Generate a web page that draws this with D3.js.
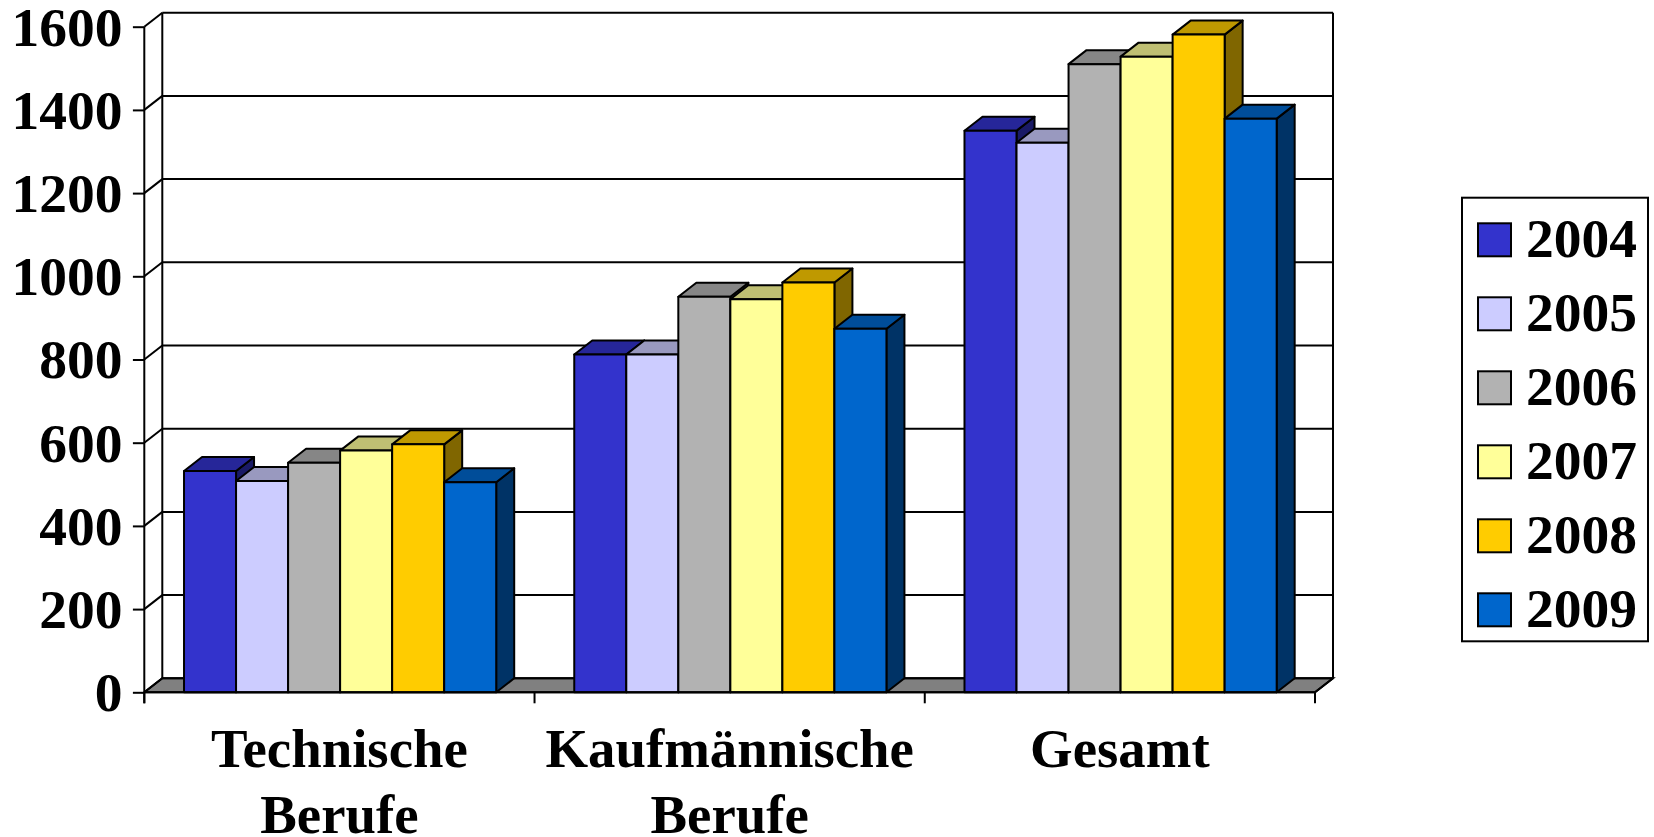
<!DOCTYPE html>
<html>
<head>
<meta charset="utf-8">
<script src="https://cdn.jsdelivr.net/npm/d3@7"></script>
<style>
  html, body { margin: 0; padding: 0; background: #fff; overflow: hidden; }
  text { font-family: "Liberation Serif", serif; font-weight: bold; fill: #000; }
</style>
</head>
<body>
<div id="chart-area"></div>
<script>
var categories = [["Technische", "Berufe"], ["Kaufmännische", "Berufe"], ["Gesamt"]]
var years = ["2004", "2005", "2006", "2007", "2008", "2009"]
var colors = ["#3333CC", "#CCCCFF", "#B2B2B2", "#FFFF99", "#FFCC00", "#0066CC"]
var yTicks = [0, 200, 400, 600, 800, 1000, 1200, 1400, 1600]

var technische = [532, 508, 552, 581, 596, 505]
var kaufmaennische = [812, 812, 951, 945, 985, 874]
var gesamt = [1350, 1321, 1510, 1528, 1581, 1379]
var series = [technische, kaufmaennische, gesamt]

var depthX = 18, depthY = 14
var sw = 2

var svg = d3.select("#chart-area")
  .append("svg")
  .attr("width", 1654)
  .attr("height", 837)
  .style("display", "block")

var y = d3.scaleLinear()
  .domain([0, 1600])
  .range([692.3, 26.7])

var x0 = d3.scaleBand()
  .domain(d3.range(categories.length))
  .range([144.3, 1315])

// bars touch each other, the gap is only between the groups
var x1 = d3.scaleBand()
  .domain(years)
  .range([0.7, x0.bandwidth() + 0.7])
  .paddingOuter(0.75)
  .paddingInner(0)

var left = x0.range()[0], right = x0.range()[1]
var bottom = y(0), top_ = y(1600)

function line(g, x_1, y_1, x_2, y_2) {
  return g.append("line")
    .attr("x1", x_1).attr("y1", y_1)
    .attr("x2", x_2).attr("y2", y_2)
    .attr("stroke", "#000")
    .attr("stroke-width", sw)
}

// floor
var wall = svg.append("g")
wall.append("path")
  .attr("d", d3.line()([
    [left, bottom], [left + depthX, bottom - depthY],
    [right + depthX, bottom - depthY], [right, bottom]
  ]) + "Z")
  .attr("fill", "#808080")
  .attr("stroke", "#000")
  .attr("stroke-width", sw)

// gridlines on the back wall and the slanted bit on the left wall
yTicks.forEach(function(t) {
  line(wall, left + depthX, y(t) - depthY, right + depthX, y(t) - depthY)
  line(wall, left, y(t), left + depthX, y(t) - depthY)
})
line(wall, left + depthX, bottom - depthY, left + depthX, top_ - depthY)
line(wall, right + depthX, bottom - depthY, right + depthX, top_ - depthY)
line(wall, right, bottom, right + depthX, bottom - depthY)

// bars, each one painted over the one before it
var bars = svg.append("g")
series.forEach(function(values, c) {
  values.forEach(function(v, i) {
    var bx = x0(c) + x1(years[i])
    var w = x1.bandwidth()
    var yTop = y(v)
    var base = d3.color(colors[i])
    var g = bars.append("g")
      .attr("stroke", "#000")
      .attr("stroke-width", sw)
      .attr("stroke-linejoin", "round")

    g.append("path")
      .attr("d", d3.line()([
        [bx + w, yTop], [bx + w + depthX, yTop - depthY],
        [bx + w + depthX, bottom - depthY], [bx + w, bottom]
      ]) + "Z")
      .attr("fill", d3.rgb(base.r * 0.5, base.g * 0.5, base.b * 0.5))

    g.append("path")
      .attr("d", d3.line()([
        [bx, yTop], [bx + depthX, yTop - depthY],
        [bx + w + depthX, yTop - depthY], [bx + w, yTop]
      ]) + "Z")
      .attr("fill", d3.rgb(base.r * 0.75, base.g * 0.75, base.b * 0.75))

    g.append("rect")
      .attr("x", bx)
      .attr("y", yTop)
      .attr("width", w)
      .attr("height", bottom - yTop)
      .attr("fill", colors[i])
  })
})

// y axis
var yAxis = d3.axisLeft(y)
  .tickValues(yTicks)
  .tickFormat(d3.format("d"))
  .tickSize(11.4)
  .tickPadding(10.5)

var yAxisG = svg.append("g")
  .attr("transform", "translate(" + left + ",0)")
  .call(yAxis)
yAxisG.select(".domain").attr("stroke-width", sw).attr("d", "M0," + (bottom + 11) + "V" + top_)
yAxisG.selectAll(".tick line").attr("stroke-width", sw)
yAxisG.selectAll(".tick text")
  .attr("dy", "0.33em")
  .style("font-size", "55.5px")
  .style("font-family", "'Liberation Serif', serif")
  .style("font-weight", "bold")

// x axis: ticks sit on the group boundaries, labels in the middle
var xAxisG = svg.append("g")
  .attr("transform", "translate(0," + bottom + ")")
  .call(d3.axisBottom(x0).tickSize(0).tickFormat(""))
xAxisG.select(".domain").attr("stroke-width", sw).attr("d", "M" + left + ",0H" + right)

d3.range(categories.length + 1).forEach(function(i) {
  line(xAxisG, left + i * x0.step(), 0, left + i * x0.step(), 11)
})

var labels = svg.append("g")
  .attr("text-anchor", "middle")
  .style("font-size", "54.8px")
categories.forEach(function(lines, c) {
  var t = labels.append("text")
    .attr("x", x0(c) + x0.bandwidth() / 2)
    .attr("y", 766.5)
  lines.forEach(function(l, i) {
    t.append("tspan")
      .attr("x", x0(c) + x0.bandwidth() / 2)
      .attr("dy", i == 0 ? 0 : 66)
      .text(l)
  })
})

// legend
var legend = svg.append("g")
legend.append("rect")
  .attr("x", 1462)
  .attr("y", 197.7)
  .attr("width", 186)
  .attr("height", 443.6)
  .attr("fill", "#fff")
  .attr("stroke", "#000")
  .attr("stroke-width", sw)

var legendY = d3.scalePoint()
  .domain(years)
  .range([223.3, 593.3])

years.forEach(function(year, i) {
  legend.append("rect")
    .attr("x", 1478)
    .attr("y", legendY(year))
    .attr("width", 33)
    .attr("height", 33)
    .attr("fill", colors[i])
    .attr("stroke", "#000")
    .attr("stroke-width", sw)
  legend.append("text")
    .attr("x", 1526)
    .attr("y", legendY(year) + 34)
    .style("font-size", "55.5px")
    .text(year)
})
</script>
</body>
</html>
